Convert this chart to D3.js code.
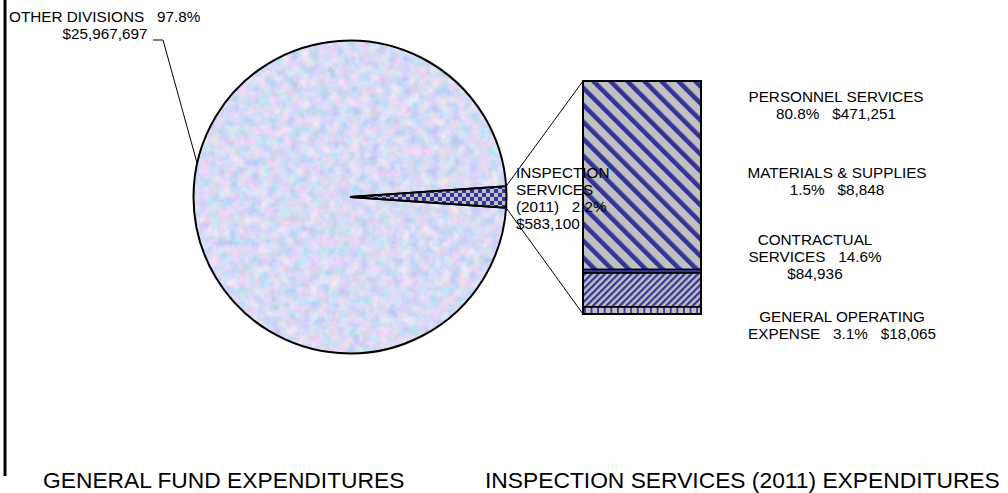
<!DOCTYPE html>
<html>
<head>
<meta charset="utf-8">
<script src="https://cdn.jsdelivr.net/npm/d3@7"></script>
<style>
  html, body { margin: 0; padding: 0; background: #fff; }
  svg { display: block; }
  text { font-family: "Liberation Sans", Arial, sans-serif; fill: #000; white-space: pre; }
</style>
</head>
<body>
<svg id="chart" width="1008" height="493"></svg>
<script>
// General fund split (pie)
const pieCategories = ["INSPECTION SERVICES (2011)", "OTHER DIVISIONS"];
const pieValues = [583100, 25967697];
const piePercents = ["2.2%", "97.8%"];

// Inspection Services breakdown (stacked bar, listed top to bottom)
const barCategories = ["PERSONNEL SERVICES", "MATERIALS & SUPPLIES", "CONTRACTUAL SERVICES", "GENERAL OPERATING EXPENSE"];
const barValues = [471251, 8848, 84936, 18065];
const barPercents = ["80.8%", "1.5%", "14.6%", "3.1%"];

const titles = ["GENERAL FUND EXPENDITURES", "INSPECTION SERVICES (2011) EXPENDITURES"];

const fmt = d3.format("$,");
const GAP = "   ";
const svg = d3.select("#chart");
const defs = svg.append("defs");

const NAVY = "#333399", GREY = "#c0c0c0";

// mottled fill for the large slice
const tex = defs.append("filter").attr("id", "mottle")
  .attr("x", 0).attr("y", 0).attr("width", 1).attr("height", 1);
tex.append("feTurbulence").attr("type", "fractalNoise")
  .attr("baseFrequency", 0.1).attr("numOctaves", 3).attr("seed", 7).attr("result", "n");
tex.append("feColorMatrix").attr("in", "n").attr("type", "matrix")
  .attr("values", "0.75 0 0 0 0.31  0.1 0.35 0 0 0.48  0 0 0.25 0 0.78  0 0 0 0 1")
  .attr("result", "c");
tex.append("feComposite").attr("in", "c").attr("in2", "SourceGraphic").attr("operator", "in");

// checkerboard for the inspection slice
const chk = defs.append("pattern").attr("id", "checker")
  .attr("patternUnits", "userSpaceOnUse").attr("width", 8).attr("height", 8);
chk.append("rect").attr("width", 8).attr("height", 8).attr("fill", GREY);
chk.append("rect").attr("width", 4).attr("height", 4).attr("fill", NAVY);
chk.append("rect").attr("x", 4).attr("y", 4).attr("width", 4).attr("height", 4).attr("fill", NAVY);

function stripes(id, period, width, angle) {
  const p = defs.append("pattern").attr("id", id)
    .attr("patternUnits", "userSpaceOnUse").attr("width", period).attr("height", period)
    .attr("patternTransform", `rotate(${angle})`);
  p.append("rect").attr("width", period).attr("height", period).attr("fill", GREY);
  p.append("rect").attr("width", width).attr("height", period).attr("fill", NAVY);
}
stripes("wideDiag", 12, 4.5, -45);
stripes("narrowDiag", 4.7, 2.2, 45);

const grid = defs.append("pattern").attr("id", "vgrid")
  .attr("patternUnits", "userSpaceOnUse").attr("width", 6.6).attr("height", 10).attr("x", 584);
grid.append("rect").attr("width", 6.6).attr("height", 10).attr("fill", GREY);
grid.append("rect").attr("width", 1.8).attr("height", 10).attr("fill", NAVY);

const barFills = ["url(#wideDiag)", NAVY, "url(#narrowDiag)", "url(#vgrid)"];

// frame line on the left
svg.append("line").attr("x1", 5).attr("x2", 5).attr("y1", 0).attr("y2", 476)
  .attr("stroke", "#000").attr("stroke-width", 3);

// ---- pie ----
const cx = 350, cy = 197, r = 156.5;
const total = d3.sum(pieValues);
const half = Math.PI * pieValues[0] / total;
const pie = d3.pie().sort(null).startAngle(Math.PI / 2 - half).endAngle(Math.PI / 2 - half + 2 * Math.PI);
const arcs = pie(pieValues);
const arc = d3.arc().innerRadius(0).outerRadius(r);
const g = svg.append("g").attr("transform", `translate(${cx},${cy})`);

g.append("path").attr("d", arc(arcs[1])).attr("fill", "#c8d4f2").attr("filter", "url(#mottle)");
g.append("path").attr("d", arc(arcs[1])).attr("fill", "none").attr("stroke", "#000").attr("stroke-width", 2);
g.append("path").attr("d", arc(arcs[0])).attr("fill", "url(#checker)")
  .attr("stroke", "#000").attr("stroke-width", 2).attr("stroke-linejoin", "miter");

// ---- stacked bar ----
const barX = 583, barW = 118;
const y = d3.scaleLinear().domain([0, d3.sum(barValues)]).range([314, 81]);
// stack from the bottom segment upward
let acc = 0;
const segs = barValues.map((v, i) => ({ v, i })).reverse().map(d => {
  const s = { ...d, y0: acc, y1: acc + d.v };
  acc += d.v;
  return s;
});
svg.append("g").selectAll("rect").data(segs).join("rect")
  .attr("x", barX).attr("width", barW)
  .attr("y", d => y(d.y1)).attr("height", d => y(d.y0) - y(d.y1))
  .attr("fill", d => barFills[d.i])
  .attr("stroke", "#000").attr("stroke-width", 1.5);
svg.append("rect").attr("x", barX).attr("y", y(d3.sum(barValues))).attr("width", barW)
  .attr("height", y(0) - y(d3.sum(barValues))).attr("fill", "none")
  .attr("stroke", "#000").attr("stroke-width", 2);

// connectors between the slice and the bar
const aTop = arcs[0].startAngle, aBot = arcs[0].endAngle;
const pt = a => [cx + r * Math.sin(a), cy - r * Math.cos(a)];
const [tx, ty] = pt(aTop), [bx, by] = pt(aBot);
svg.append("line").attr("x1", tx).attr("y1", ty).attr("x2", barX).attr("y2", y(d3.sum(barValues)))
  .attr("stroke", "#000").attr("stroke-width", 1);
svg.append("line").attr("x1", bx).attr("y1", by).attr("x2", barX).attr("y2", y(0))
  .attr("stroke", "#000").attr("stroke-width", 1);

// ---- labels ----
function label(lines, x, y0, anchor, lh = 17) {
  const t = svg.append("text").attr("font-size", 15.3).attr("text-anchor", anchor);
  lines.forEach((s, k) => t.append("tspan").attr("x", x).attr("y", y0 + k * lh).text(s));
}

// other divisions with leader
label([`${pieCategories[1]}${GAP}${piePercents[1]}`], 9, 22, "start");
label([fmt(pieValues[1])], 105, 39, "middle");
svg.append("polyline")
  .attr("points", `153,40 163,40 ${cx + r * Math.sin(-1.354)},${cy - r * Math.cos(-1.354)}`)
  .attr("fill", "none").attr("stroke", "#000").attr("stroke-width", 1);

// inspection services slice
label(["INSPECTION", "SERVICES", `(2011)${GAP}${piePercents[0]}`, fmt(pieValues[0])], 516, 178, "start");

// bar segment labels
label([barCategories[0], `${barPercents[0]}${GAP}${fmt(barValues[0])}`], 836, 102, "middle");
label([barCategories[1], `${barPercents[1]}${GAP}${fmt(barValues[1])}`], 837, 178, "middle");
label(["CONTRACTUAL", `SERVICES${GAP}${barPercents[2]}`, fmt(barValues[2])], 815, 245, "middle");
label(["GENERAL OPERATING", `EXPENSE${GAP}${barPercents[3]}${GAP}${fmt(barValues[3])}`], 842, 322, "middle");

// chart titles
svg.append("text").attr("x", 43).attr("y", 488).attr("font-size", 22.8).text(titles[0]);
svg.append("text").attr("x", 485).attr("y", 488).attr("font-size", 22.8).text(titles[1]);
</script>
</body>
</html>
